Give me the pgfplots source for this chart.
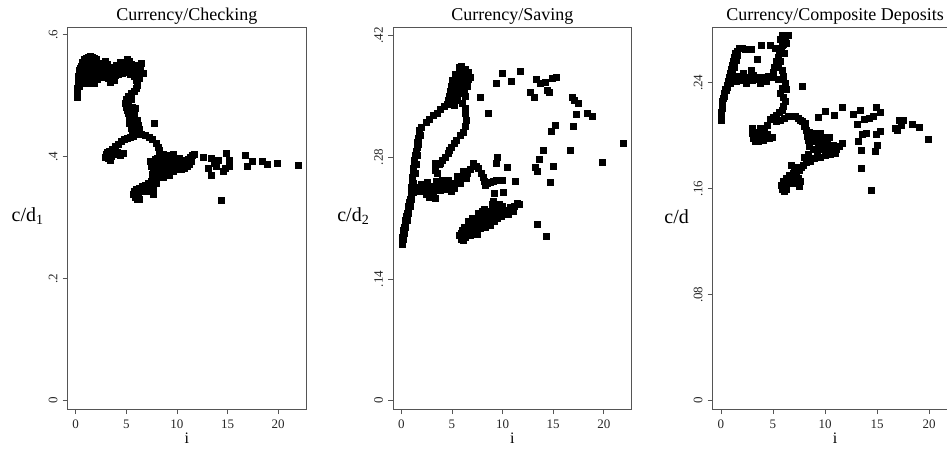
\documentclass[border=0pt]{standalone}
\usepackage{fontspec}
\setmainfont{Liberation Serif}
\usepackage{pgfplots}
\pgfplotsset{compat=1.18}
\usepackage{pgfplotstable}
\definecolor{axgray}{RGB}{85,85,85}

\pgfplotstableread{
x y
0.10 0.497
0.12 0.502
0.15 0.507
0.18 0.512
0.22 0.517
0.26 0.522
0.30 0.527
0.20 0.532
0.35 0.537
0.30 0.542
0.45 0.545
0.5 0.548
0.7 0.552
0.9 0.556
1.0 0.561
1.2 0.564
1.4 0.565
1.6 0.564
1.8 0.562
2.0 0.560
0.6 0.538
0.8 0.542
1.1 0.547
1.3 0.552
1.5 0.555
1.7 0.551
1.9 0.548
2.2 0.552
0.7 0.527
0.9 0.522
1.2 0.520
1.5 0.524
1.8 0.521
2.1 0.527
2.3 0.535
1.0 0.532
1.4 0.538
1.8 0.535
2.1 0.540
1.2 0.557
0.5 0.530
0.4 0.535
0.6 0.555
0.8 0.560
1.0 0.552
1.3 0.543
1.6 0.545
1.9 0.555
2.2 0.546
0.9 0.537
1.6 0.530
2.0 0.533
1.3 0.526
0.6 0.521
0.3 0.515
2.5 0.545
2.7 0.553
2.9 0.556
3.1 0.552
3.3 0.547
3.5 0.543
3.7 0.547
3.9 0.545
4.1 0.540
4.3 0.542
4.5 0.546
4.7 0.550
4.9 0.555
5.1 0.560
5.3 0.556
5.5 0.552
5.7 0.548
5.9 0.545
6.1 0.541
2.6 0.530
2.9 0.535
3.2 0.528
3.4 0.522
3.6 0.530
3.9 0.533
4.2 0.535
4.6 0.537
5.0 0.538
5.4 0.535
5.8 0.532
6.2 0.535
6.5 0.553
6.7 0.537
6.4 0.545
3.0 0.543
2.8 0.540
2.6 0.538
3.5 0.536
4.0 0.550
4.4 0.555
4.8 0.543
5.2 0.545
5.6 0.540
6.0 0.550
6.3 0.528
3.8 0.526
6.0 0.525
6.1 0.518
6.0 0.512
5.8 0.508
5.5 0.504
5.2 0.500
5.0 0.494
4.9 0.488
5.0 0.482
5.1 0.477
5.2 0.472
5.3 0.467
5.4 0.462
5.5 0.457
5.6 0.452
5.3 0.455
5.7 0.462
5.8 0.470
5.9 0.458
6.0 0.452
6.1 0.446
5.8 0.446
6.2 0.441
5.5 0.447
5.2 0.485
5.4 0.475
5.2 0.493
5.5 0.495
5.6 0.482
5.7 0.456
6.2 0.452
6.3 0.446
5.9 0.441
5.6 0.444
5.9 0.480
6.1 0.460
6.0 0.437
5.7 0.434
5.4 0.432
5.1 0.430
4.8 0.428
4.5 0.425
4.2 0.421
3.9 0.417
3.6 0.413
3.3 0.409
3.0 0.404
2.9 0.399
3.2 0.398
3.5 0.401
3.8 0.404
4.1 0.407
4.4 0.403
4.7 0.406
3.4 0.395
3.1 0.408
6.5 0.437
6.9 0.435
7.3 0.432
7.6 0.428
7.9 0.423
8.1 0.416
8.2 0.410
8.3 0.404
8.5 0.399
7.75 0.455
7.5 0.385
7.7 0.380
7.9 0.390
8.1 0.383
8.3 0.392
8.5 0.386
8.7 0.395
8.9 0.389
9.1 0.398
9.3 0.392
9.5 0.386
9.7 0.395
9.9 0.390
10.1 0.385
10.3 0.392
10.5 0.388
10.7 0.382
10.9 0.391
11.1 0.396
11.3 0.399
11.5 0.402
11.7 0.404
7.6 0.372
7.9 0.368
8.2 0.375
8.4 0.370
8.8 0.377
9.2 0.380
9.6 0.376
10.0 0.380
10.4 0.379
11.0 0.384
8.0 0.398
9.0 0.402
9.6 0.404
8.6 0.405
7.4 0.392
11.2 0.388
7.8 0.396
8.2 0.400
8.8 0.383
9.4 0.398
10.2 0.397
10.6 0.395
9.8 0.382
8.6 0.380
7.7 0.376
11.4 0.393
12.6 0.400
13.4 0.398
14.1 0.395
14.9 0.406
15.2 0.395
13.1 0.381
13.9 0.384
14.6 0.376
15.2 0.384
13.4 0.370
16.7 0.403
16.9 0.384
17.4 0.392
18.4 0.392
18.9 0.387
19.9 0.389
22.0 0.386
14.4 0.328
13.7 0.389
14.8 0.382
8.4 0.372
8.1 0.367
7.8 0.363
7.5 0.360
7.2 0.357
6.9 0.354
6.6 0.351
6.3 0.349
6.0 0.347
5.8 0.344
5.7 0.339
5.9 0.334
6.1 0.331
6.3 0.330
7.0 0.343
7.65 0.338
7.65 0.346
7.2 0.348
6.6 0.343
8.9 0.372
9.2 0.370
7.9 0.357
7.3 0.352
6.8 0.348
6.2 0.338
6.5 0.345
8.6 0.366
}\checking

\pgfplotstableread{
x y
0.08 0.180
0.10 0.184
0.13 0.188
0.17 0.192
0.22 0.196
0.28 0.200
0.35 0.204
0.42 0.208
0.50 0.212
0.57 0.216
0.64 0.220
0.72 0.224
0.80 0.228
0.88 0.232
0.96 0.236
1.02 0.240
1.00 0.245
0.15 0.186
0.25 0.193
0.40 0.200
0.55 0.208
0.70 0.216
0.85 0.224
1.00 0.232
1.15 0.240
1.20 0.250
1.35 0.262
1.45 0.272
1.55 0.282
1.70 0.295
1.85 0.305
1.10 0.247
1.40 0.246
1.70 0.245
2.00 0.244
2.30 0.245
2.60 0.246
2.90 0.247
3.20 0.247
3.50 0.248
3.80 0.247
4.10 0.248
4.40 0.249
4.70 0.248
5.00 0.246
5.30 0.250
5.60 0.253
5.90 0.256
6.20 0.259
6.50 0.262
6.80 0.266
7.10 0.273
1.30 0.242
1.80 0.241
2.50 0.237
2.80 0.234
3.10 0.238
3.30 0.233
4.20 0.243
4.90 0.241
5.20 0.244
3.40 0.252
4.00 0.253
4.60 0.254
5.50 0.258
2.00 0.249
2.60 0.251
3.00 0.243
3.80 0.242
4.50 0.244
5.80 0.250
6.40 0.256
3.3 0.273
3.7 0.272
3.3 0.265
3.5 0.262
6.1 0.264
1.05 0.252
1.10 0.257
1.15 0.262
1.20 0.267
1.25 0.272
1.30 0.277
1.38 0.282
1.45 0.287
1.52 0.292
1.60 0.297
1.67 0.302
1.72 0.307
1.80 0.311
1.95 0.314
2.5 0.320
2.8 0.324
3.15 0.328
3.5 0.330
3.8 0.335
4.2 0.338
4.5 0.341
4.8 0.344
4.7 0.350
4.8 0.356
4.9 0.362
5.0 0.352
5.1 0.358
5.2 0.365
5.3 0.349
5.4 0.370
5.5 0.362
5.6 0.375
5.7 0.368
5.8 0.378
5.9 0.384
6.0 0.372
6.1 0.366
6.2 0.376
6.4 0.374
6.6 0.370
6.8 0.372
6.5 0.362
6.2 0.358
5.8 0.354
5.5 0.345
6.0 0.342
5.2 0.340
6.3 0.350
6.05 0.380
5.6 0.358
5.0 0.368
4.6 0.346
5.0 0.345
5.4 0.355
5.9 0.360
6.3 0.362
6.6 0.378
5.3 0.375
5.7 0.383
6.3 0.381
6.3 0.336
6.35 0.330
6.4 0.323
6.35 0.316
6.1 0.309
5.8 0.305
5.45 0.300
5.2 0.296
4.95 0.292
4.7 0.288
4.6 0.284
4.3 0.280
4.0 0.276
3.8 0.273
7.4 0.270
7.6 0.267
7.9 0.262
8.1 0.257
8.2 0.252
8.25 0.248
8.5 0.250
8.8 0.251
9.1 0.252
9.4 0.253
9.7 0.254
10.0 0.254
7.8 0.349
8.6 0.330
9.4 0.365
10.0 0.376
10.9 0.367
11.7 0.379
12.7 0.355
13.1 0.349
13.3 0.370
13.75 0.365
14.2 0.366
14.4 0.357
14.6 0.355
14.9 0.371
15.3 0.372
16.9 0.349
17.1 0.345
17.5 0.342
17.3 0.329
18.4 0.330
18.9 0.327
16.95 0.316
15.2 0.317
14.8 0.310
14.0 0.288
13.6 0.278
13.2 0.269
13.4 0.264
14.97 0.270
14.75 0.251
16.7 0.288
19.8 0.274
21.9 0.296
9.45 0.280
9.4 0.273
10.45 0.268
11.2 0.252
9.2 0.238
10.05 0.240
9.1 0.229
9.7 0.226
13.4 0.203
14.3 0.189
5.7 0.190
5.9 0.186
6.1 0.185
6.3 0.188
5.9 0.193
6.3 0.196
6.6 0.193
6.8 0.190
6.5 0.200
6.8 0.204
7.0 0.199
7.2 0.207
7.4 0.202
7.5 0.192
7.6 0.210
7.8 0.204
8.0 0.212
8.1 0.206
8.3 0.200
8.4 0.214
8.6 0.208
8.7 0.218
8.8 0.202
8.9 0.212
9.1 0.222
9.2 0.206
9.3 0.215
9.5 0.210
9.7 0.218
9.9 0.212
10.2 0.216
10.5 0.219
10.8 0.222
11.1 0.224
11.4 0.227
11.6 0.226
7.0 0.210
7.6 0.216
8.2 0.220
9.0 0.226
6.6 0.206
6.0 0.196
6.2 0.200
7.2 0.195
7.8 0.198
8.5 0.206
9.6 0.220
10.0 0.224
8.0 0.218
9.4 0.226
10.6 0.214
11.0 0.218
}\saving

\pgfplotstableread{
x y
0.05 0.212
0.03 0.215
0.05 0.218
0.08 0.221
0.12 0.224
0.20 0.228
0.30 0.232
0.42 0.235
0.55 0.238
0.65 0.241
0.75 0.244
0.85 0.247
0.95 0.250
1.05 0.253
1.15 0.256
1.28 0.259
1.40 0.262
1.55 0.264
1.75 0.266
0.10 0.226
0.35 0.230
0.50 0.234
0.60 0.237
0.80 0.241
1.00 0.244
1.10 0.248
1.30 0.252
1.50 0.257
1.60 0.261
2.0 0.266
2.3 0.265
2.6 0.265
2.9 0.265
3.9 0.268
3.5 0.258
4.7 0.2687
5.2 0.266
5.7 0.2725
5.9 0.276
6.2 0.274
6.5 0.276
6.3 0.270
5.95 0.269
0.9 0.240
1.2 0.241
1.5 0.241
1.8 0.242
2.1 0.243
2.4 0.244
2.7 0.243
3.0 0.242
3.3 0.243
3.6 0.244
3.9 0.243
4.2 0.244
4.5 0.245
4.8 0.244
2.1 0.2473
2.95 0.2498
1.6 0.245
1.4 0.245
2.4 0.240
3.1 0.246
3.8 0.240
4.3 0.241
5.0 0.248
5.15 0.252
5.3 0.256
5.45 0.259
5.6 0.262
5.75 0.265
5.9 0.268
6.05 0.271
5.7 0.256
6.1 0.262
6.3 0.235
5.5 0.243
5.5 0.252
5.9 0.2498
6.0 0.245
6.15 0.240
5.9 0.236
5.67 0.232
5.95 0.229
6.15 0.226
6.0 0.222
5.85 0.2196
5.6 0.218
5.35 0.2158
5.0 0.214
4.7 0.2121
4.4 0.2083
3.0 0.206
3.0 0.202
3.1 0.198
3.3 0.196
3.5 0.199
3.7 0.203
3.75 0.2055
3.9 0.200
4.1 0.197
4.4 0.201
4.6 0.198
4.9 0.199
3.4 0.203
3.2 0.201
3.6 0.196
4.2 0.203
5.3 0.211
5.7 0.212
6.1 0.213
6.5 0.2146
6.8 0.215
7.1 0.2146
7.4 0.213
7.6 0.212
7.85 0.211
8.1 0.2096
8.15 0.2045
8.25 0.200
8.4 0.197
8.5 0.1919
8.7 0.196
8.9 0.190
9.1 0.198
9.3 0.193
9.5 0.202
9.6 0.196
9.8 0.190
10.0 0.194
10.3 0.188
10.5 0.192
10.8 0.193
11.1 0.190
11.4 0.192
11.6 0.194
9.0 0.202
10.4 0.199
8.5 0.203
8.8 0.200
9.2 0.188
9.7 0.199
10.2 0.196
8.0 0.207
11.0 0.187
10.5 0.186
10.0 0.185
9.5 0.184
9.0 0.183
8.6 0.181
8.2 0.180
7.9 0.178
7.7 0.176
7.5 0.174
7.2 0.173
6.9 0.172
6.6 0.170
6.3 0.168
6.0 0.166
5.8 0.163
5.85 0.160
6.1 0.158
6.3 0.160
6.8 0.164
7.0 0.167
7.5 0.162
7.6 0.1655
7.1 0.176
8.0 0.184
6.5 0.165
7.0 0.175
7.4 0.168
8.4 0.186
6.7 0.178
7.8 0.2372
9.36 0.214
10.0 0.2184
10.87 0.2154
11.67 0.2216
12.7 0.2164
13.05 0.2088
13.4 0.2191
13.75 0.2126
14.2 0.213
14.65 0.2146
14.9 0.2216
15.3 0.2176
13.6 0.2008
14.0 0.2017
13.2 0.1957
13.5 0.1894
14.9 0.2008
15.3 0.2033
15.0 0.1932
14.8 0.1882
13.5 0.1756
14.4 0.1587
16.7 0.2058
17.1 0.2116
17.5 0.2116
16.9 0.2045
17.35 0.2083
18.4 0.2088
19.0 0.2063
19.9 0.1977
22.0 0.199
}\composite

\pgfplotsset{
  statapanel/.style={
    scale only axis, width=238.3pt, height=381.3pt,
    xmin=-0.79, xmax=22.75,
    axis line style={draw=axgray, line width=0.9pt},
    tick align=outside, major tick length=5pt,
    tick style={draw=axgray, line width=0.8pt},
    xtick={0,5,10,15,20}, xticklabels={0,5,10,15,20},
    xtick pos=bottom, ytick pos=left,
    ticklabel style={font=\fontsize{13}{13}\selectfont, inner sep=0pt, text=black!85},
    yticklabel style={rotate=90, anchor=south},
    xticklabel style={anchor=north},
    xticklabel shift=6pt, yticklabel shift=5pt,
    /pgf/number format/assume math mode=true,
    every axis title/.style={at={(rel axis cs:0.5,1)}, anchor=south, inner sep=0pt, yshift=3pt, font=\fontsize{18}{18}\selectfont},
    every axis y label/.style={at={(rel axis cs:0,0.5)}, anchor=center, xshift=-40pt, yshift=2pt, font=\fontsize{20}{20}\selectfont},
    every axis x label/.style={at={(rel axis cs:0.5,0)}, anchor=north, inner sep=0pt, yshift=-24pt, font=\fontsize{16}{16}\selectfont},
    clip=false,
    xlabel={i},
  },
  statamarks/.style={only marks, mark=square*, mark size=3pt, black, mark options={line width=0.3pt}},
}

\begin{document}
\begin{tikzpicture}[x=1pt,y=1pt]
\begin{axis}[statapanel, at={(67.7pt,39pt)}, anchor=south west,
  ymin=-0.0136, ymax=0.6115,
  ytick={0,0.2,0.4,0.6}, yticklabels={0,.2,.4,.6},
  title={Currency/Checking}, ylabel={c/d\textsubscript{1}}]
\addplot[statamarks] table {\checking};
\end{axis}
\begin{axis}[statapanel, at={(393.3pt,39pt)}, anchor=south west,
  ymin=-0.0095, ymax=0.4287,
  ytick={0,0.14,0.28,0.42}, yticklabels={0,.14,.28,.42},
  title={Currency/Saving}, ylabel={c/d\textsubscript{2}}]
\addplot[statamarks] table {\saving};
\end{axis}
\begin{axis}[statapanel, at={(712.7pt,39pt)}, anchor=south west,
  width=245pt,
  ymin=-0.0063, ymax=0.2815,
  ytick={0,0.08,0.16,0.24}, yticklabels={0,.08,.16,.24},
  every axis y label/.append style={xshift=4pt},
  title={Currency/Composite Deposits}, ylabel={c/d}]
\addplot[statamarks] table {\composite};
\end{axis}
\pgfresetboundingbox
\path[use as bounding box] (0,0) rectangle (947,448);
\end{tikzpicture}
\end{document}
